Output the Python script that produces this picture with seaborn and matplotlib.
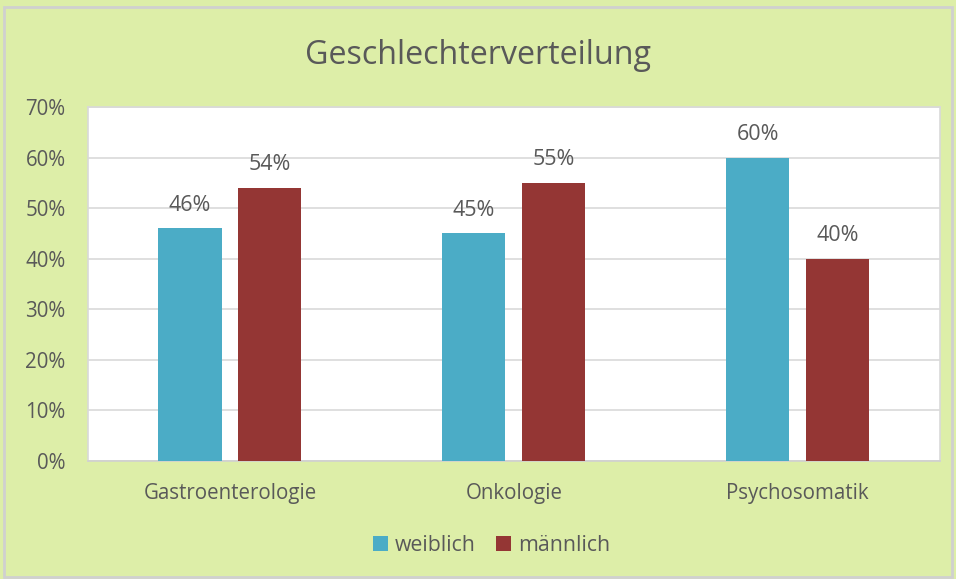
import seaborn as sns
import matplotlib.pyplot as plt
import pandas as pd
from matplotlib.patches import Rectangle

# Daten
abteilungen = ["Gastroenterologie", "Onkologie", "Psychosomatik"]
weiblich = [0.46, 0.45, 0.60]
maennlich = [0.54, 0.55, 0.40]
geschlechter = ["weiblich", "männlich"]
yticks = [0, 0.1, 0.2, 0.3, 0.4, 0.5, 0.6, 0.7]

df = pd.DataFrame({
    "Abteilung": abteilungen * 2,
    "Geschlecht": ["weiblich"] * 3 + ["männlich"] * 3,
    "Anteil": weiblich + maennlich,
})

sns.set_style("white")
plt.rcParams["font.family"] = ["Open Sans", "DejaVu Sans"]
grau = "#595959"
hintergrund = "#DDEEA8"

fig = plt.figure(figsize=(9.56, 5.79), dpi=100, facecolor=hintergrund)
fig.patches.append(Rectangle((0.004, 0.004), 0.992, 0.984, transform=fig.transFigure,
                             fill=False, edgecolor="#D0D0D0", linewidth=2))
ax = fig.add_axes([0.092, 0.204, 0.891, 0.611])

sns.barplot(data=df, x="Abteilung", y="Anteil", hue="Geschlecht", hue_order=geschlechter,
            palette=["#4BACC6", "#943634"], saturation=1, width=0.563, gap=0.21,
            linewidth=0, ax=ax, zorder=3)

for cont in ax.containers:
    ax.bar_label(cont, labels=[f"{v.get_height():.0%}" for v in cont], padding=9,
                 fontsize=15.5, color=grau)

ax.set_ylim(0, 0.7)
ax.set_yticks(yticks)
ax.set_yticklabels([f"{t:.0%}" for t in yticks], fontsize=14.8, color=grau)
ax.tick_params(axis="x", labelsize=14.8, labelcolor=grau, pad=16, length=0)
ax.tick_params(axis="y", pad=16, length=0)
ax.set_xlabel("")
ax.set_ylabel("")
ax.grid(axis="y", color="#D9D9D9", linewidth=1.2, zorder=0)
ax.set_axisbelow(True)
for s in ax.spines.values():
    s.set_color("#D9D9D9")
    s.set_linewidth(1.2)
ax.spines["bottom"].set_color("#D0D0D0")

fig.text(0.5, 0.905, "Geschlechterverteilung", ha="center", va="center", fontsize=23.2, color=grau)

ax.legend(loc="center", ncol=2, frameon=False, fontsize=15.3, labelcolor=grau,
          handlelength=0.7, handleheight=0.7, handletextpad=0.3, columnspacing=1.0)
leg = ax.get_legend()
leg.set_bbox_to_anchor((0.514, 0.058), transform=fig.transFigure)

fig.savefig("out.png", dpi=100, facecolor=hintergrund)
